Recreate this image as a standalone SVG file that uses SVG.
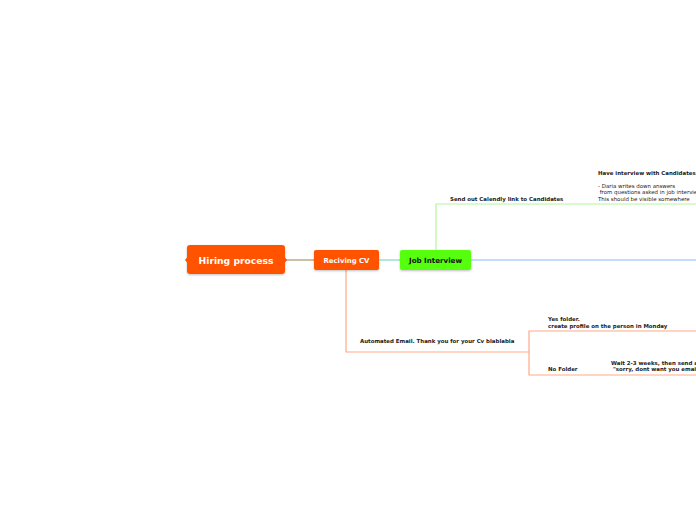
<svg xmlns="http://www.w3.org/2000/svg" width="696" height="520" viewBox="0 0 696 520">
<defs>
<style>
.t{font-family:"DejaVu Sans","Verdana",sans-serif;font-size:5.45px;fill:#222}
.b{font-weight:bold}
.nt{font-family:"DejaVu Sans","Verdana",sans-serif;font-weight:bold;text-anchor:middle}
.ln{fill:none;stroke-width:1.2}
</style>
<filter id="sh" x="-10%" y="-20%" width="120%" height="150%">
<feDropShadow dx="0" dy="1" stdDeviation="0.8" flood-color="#000" flood-opacity="0.25"/>
</filter>
</defs>
<rect width="696" height="520" fill="#fff"/>
<g id="connectors">
<line class="ln" x1="285" y1="260" x2="314" y2="260" stroke="#a49468"/>
<line class="ln" x1="379" y1="260" x2="400" y2="260" stroke="#86d6c4"/>
<line class="ln" x1="471" y1="260" x2="696" y2="260" stroke="#8cb6ff" stroke-width="1.5"/>
<polyline class="ln" points="436,250 436,204 696,204" stroke="#b4f59a"/>
<polyline class="ln" points="346,270 346,352 529,352" stroke="#ffaa88"/>
<polyline class="ln" points="696,331 529,331 529,375 696,375" stroke="#ffaa88"/>
</g>
<g id="hiring-process">
<rect x="187" y="245" width="98" height="29" rx="3" fill="#ff5200" filter="url(#sh)"/>
<path d="M187,257.5 L185,260 L187,262.5Z M285,257.5 L287,260 L285,262.5Z" fill="#ff5200"/>
<text class="nt" x="236" y="264" font-size="9.2" fill="#fff">Hiring process</text>
</g>
<g id="reciving-cv">
<rect x="314" y="250" width="65" height="20" rx="2" fill="#ff5200" filter="url(#sh)"/>
<text class="nt" x="346.5" y="262.5" font-size="6.9" fill="#fff">Reciving CV</text>
</g>
<g id="job-interview">
<rect x="400" y="250" width="71" height="20" rx="2" fill="#55ff11" filter="url(#sh)"/>
<text class="nt" x="435.5" y="262.5" font-size="7.1" fill="#111">Job Interview</text>
</g>
<g id="send-calendly">
<text class="t b" x="450" y="201">Send out Calendly link to Candidates</text>
</g>
<g id="have-interview">
<text class="t b" x="598" y="175">Have interview with Candidates</text>
<text class="t" x="598" y="188">- Daria writes down answers</text>
<text class="t" x="599.7" y="194">from questions asked in job interview</text>
<text class="t" x="598" y="201">This should be visible somewhere</text>
</g>
<g id="automated-email">
<text class="t b" x="360" y="343">Automated Email. Thank you for your Cv blablabla</text>
</g>
<g id="yes-folder">
<text class="t b" x="548" y="321">Yes folder.</text>
<text class="t b" x="548" y="328">create profile on the person in Monday</text>
</g>
<g id="no-folder">
<text class="t b" x="548" y="371">No Folder</text>
</g>
<g id="wait">
<text class="t b" x="611" y="365">Wait 2-3 weeks, then send an email</text>
<text class="t b" x="613" y="371">"sorry, dont want you email</text>
</g>
</svg>
